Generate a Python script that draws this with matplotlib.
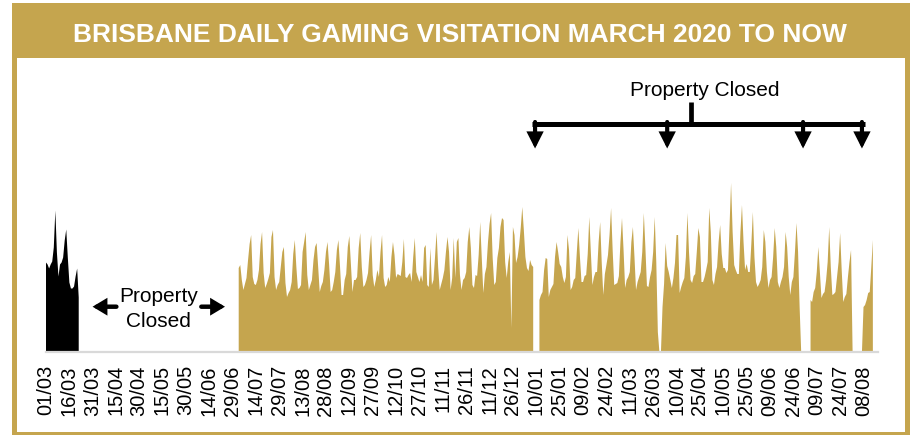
import numpy as np
import pandas as pd
import matplotlib
matplotlib.use('Agg')
import matplotlib.pyplot as plt
import matplotlib.dates as mdates
from matplotlib.patches import Rectangle

plt.rcParams['font.family'] = ['Liberation Sans', 'DejaVu Sans']

title = 'BRISBANE DAILY GAMING VISITATION MARCH 2020 TO NOW'
gold = '#C5A54E'

# daily visitation (relative units), March 2020 before closure
pre_start = '2020-03-01'
pre_values = [90, 88, 84, 88, 91, 105, 142, 100, 76, 88, 90, 95, 112, 123,
              95, 70, 64, 64, 66, 76, 84, 55]

# after reopening on Fri 03/07/2020; rows are weeks Sat..Fri, None = closed
post_start = '2020-07-03'
post_first = [84]
post_weeks = [
    [87, 72, 62, 68, 74, 92, 108],      # 04/07
    [117, 75, 68, 67, 72, 82, 108],     # 11/07
    [120, 79, 64, 68, 73, 79, 115],     # 18/07
    [122, 75, 62, 67, 70, 85, 100],     # 25/07
    [105, 69, 55, 59, 62, 70, 98],      # 01/08
    [112, 85, 63, 64, 67, 100, 110],    # 08/08
    [120, 77, 62, 67, 72, 92, 105],     # 15/08
    [109, 85, 60, 66, 70, 82, 100],     # 22/08
    [110, 88, 60, 62, 70, 80, 102],     # 29/08
    [112, 86, 57, 57, 72, 78, 105],     # 05/09
    [116, 88, 60, 72, 72, 75, 104],     # 12/09
    [119, 85, 65, 67, 72, 79, 100],     # 19/09
    [117, 77, 65, 72, 82, 75, 100],     # 26/09
    [117, 74, 65, 67, 75, 70, 95],      # 03/10
    [110, 97, 74, 78, 77, 76, 90],      # 10/10
    [113, 75, 74, 77, 79, 70, 95],      # 17/10
    [114, 80, 75, 70, 77, 70, 104],     # 24/10
    [107, 67, 65, 104, 67, 72, 95],     # 31/10
    [120, 85, 62, 68, 74, 82, 100],     # 07/11
    [115, 100, 62, 74, 114, 74, 110],   # 14/11
    [114, 77, 62, 72, 74, 80, 110],     # 21/11
    [125, 104, 67, 64, 77, 76, 97],     # 28/11
    [130, 94, 59, 78, 85, 110, 128],    # 05/12
    [139, 94, 67, 70, 94, 104, 125],    # 12/12
    [134, 132, 90, 74, 90, 100, 24],    # 19/12
    [125, 117, 89, 95, 107, 124, 145],  # 26/12
    [122, 95, 84, 81, 92, 87, 85],      # 02/01
    [None, None, None, 52, 57, 60, 82], # 09/01
    [94, 93, 55, 62, 65, 68, 95],       # 16/01
    [110, 100, 88, 85, 75, 69, 75],     # 23/01
    [117, 102, 62, 65, 72, 74, 100],    # 30/01
    [124, 95, 70, 70, 76, 77, 98],      # 06/02
    [135, 100, 67, 75, 80, 80, 110],    # 13/02
    [130, 89, 57, 78, 87, 97, 117],     # 20/02
    [144, 102, 67, 68, 69, 76, 110],    # 27/02
    [134, 102, 64, 72, 75, 80, 110],    # 06/03
    [125, 95, 62, 70, 75, 80, 100],     # 13/03
    [139, 105, 66, 65, 75, 82, 100],    # 20/03
    [135, 90, 20, 0, 0, 45, 68],        # 27/03
    [109, 86, 80, 72, 64, 74, 89],      # 03/04
    [117, 117, 59, 65, 70, 74, 95],     # 10/04
    [139, 100, 72, 69, 76, 78, 100],    # 17/04
    [124, 115, 70, 70, 75, 82, 90],     # 24/04
    [144, 120, 72, 67, 78, 85, 110],    # 01/05
    [127, 98, 84, 84, 79, 82, 125],     # 08/05
    [169, 120, 87, 82, 78, 78, 120],    # 15/05
    [147, 110, 82, 88, 80, 80, 108],    # 22/05
    [140, 95, 70, 65, 68, 72, 85],      # 29/05
    [122, 110, 80, 64, 72, 75, 95],     # 05/06
    [124, 105, 70, 64, 70, 75, 85],     # 12/06
    [120, 105, 75, 57, 70, 75, 100],    # 19/06
    [129, 100, 45, 0, None, None, None],  # 26/06
    [None, None, 52, 50, 60, 64, 80],   # 03/07
    [105, 80, 54, 58, 60, 72, 90],      # 10/07
    [125, 85, 57, 58, 60, 75, 90],      # 17/07
    [119, 82, 50, 55, 58, 75, 90],      # 24/07
    [102, 0, 1, 0, 1, 0, 1],            # 31/07
    [0, 45, 47, 52, 59, 60, 85],        # 07/08
]
post_last = [112]                       # 14/08
post_values = post_first + [v for wk in post_weeks for v in wk] + post_last

tick_dates = pd.date_range('2020-03-01', periods=36, freq='15D')

x0 = mdates.date2num(pd.Timestamp(pre_start))


def day(n):
    return x0 + n


W, H = 912, 437
fig = plt.figure(figsize=(W / 100, H / 100), dpi=100)


def px_rect(x_a, y_a, x_b, y_b, color, z):
    fig.add_artist(Rectangle((x_a / W, 1 - y_b / H), (x_b - x_a) / W, (y_b - y_a) / H,
                             transform=fig.transFigure, facecolor=color,
                             edgecolor='none', zorder=z))


px_rect(12, 3, 910, 435, gold, -3)
px_rect(17, 58, 905, 432, 'white', -2)
fig.text(460 / W, 1 - 42 / H, title, color='white', fontsize=19, fontweight='bold',
         ha='center', va='baseline')

ax = fig.add_axes([45.5 / W, 85 / H, 832.5 / W, 292 / H])
ax.patch.set_alpha(0)

pre_x = mdates.date2num(pd.date_range(pre_start, periods=len(pre_values)))
post_x = mdates.date2num(pd.date_range(post_start, periods=len(post_values)))
pre_y = np.array(pre_values, dtype=float)
post_y = np.array(post_values, dtype=float)

ax.fill_between(pre_x, 0, pre_y, color='black', lw=0)
ax.fill_between(post_x, 0, post_y, color=gold, lw=0)

ax.set_xlim(day(0), day(534.3))
ax.set_ylim(0, 292)
ax.set_xticks(mdates.date2num(tick_dates))
ax.set_xticklabels([d.strftime('%d/%m') for d in tick_dates], rotation=90, fontsize=14.5)
ax.tick_params(axis='x', length=0, pad=9.5)
ax.set_yticks([])
for s in ['left', 'right', 'top']:
    ax.spines[s].set_visible(False)
ax.spines['bottom'].set_color('#D9D9D9')
ax.spines['bottom'].set_linewidth(1.6)

# left "Property Closed" label with arrows
ax.text(day(72.4), 50.3, 'Property', fontsize=15, ha='center', va='baseline')
ax.text(day(72.6), 25.3, 'Closed', fontsize=15, ha='center', va='baseline')
arr = dict(arrowstyle='-|>,head_length=6,head_width=3.6', lw=3.2, color='black',
           shrinkA=0, shrinkB=0, mutation_scale=1, joinstyle='miter')
ax.annotate('', xy=(day(30.2), 45.3), xytext=(day(45.5), 45.3), arrowprops=arr)
ax.annotate('', xy=(day(115.2), 45.3), xytext=(day(100), 45.3), arrowprops=arr)

# top bracket pointing to the 2021 lockdowns
ax.text(day(423.3), 256.5, 'Property Closed', fontsize=15, ha='center', va='baseline')
ax.plot([day(414), day(414)], [228.5, 250], color='black', lw=3.4, solid_capstyle='butt')
ax.plot([day(312.3), day(526)], [228.5, 228.5], color='black', lw=3.6,
        solid_capstyle='butt')
down = dict(arrowstyle='-|>,head_length=7.5,head_width=3.8', lw=3.0, color='black',
            shrinkA=0, shrinkB=0, mutation_scale=1, joinstyle='miter')
for d in [314.2, 399, 486.2, 524]:
    ax.annotate('', xy=(day(d), 203.5), xytext=(day(d), 230), arrowprops=down)

fig.savefig('out.png', dpi=100)
